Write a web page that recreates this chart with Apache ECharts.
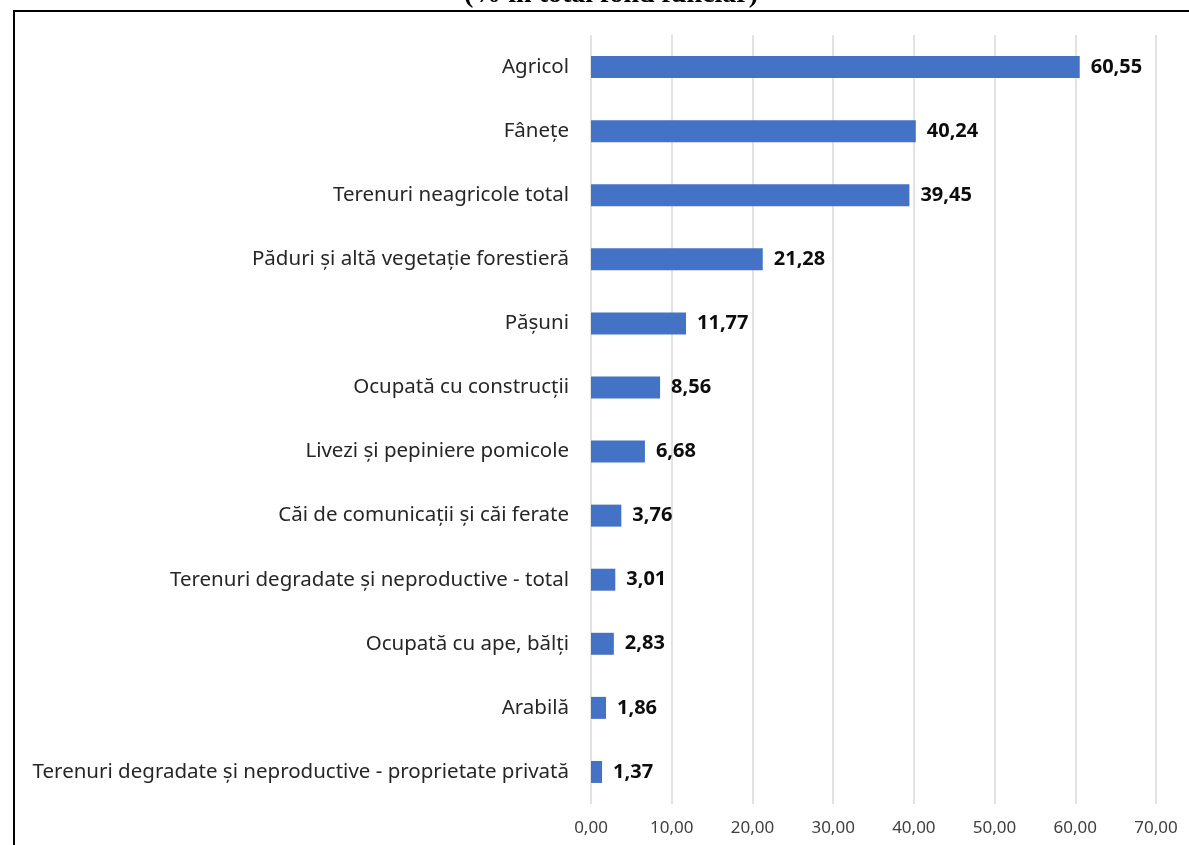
<!DOCTYPE html>
<html><head><meta charset="utf-8">
<script src="https://cdn.jsdelivr.net/npm/echarts@6/dist/echarts.min.js"></script>
<style>html,body{margin:0;padding:0;background:#fff}#c{width:1189px;height:845px}</style>
</head><body><div id="c"></div>
<script>
const categories = [
  "Agricol",
  "Fânețe",
  "Terenuri neagricole total",
  "Păduri și altă vegetație forestieră",
  "Pășuni",
  "Ocupată cu construcții",
  "Livezi și pepiniere pomicole",
  "Căi de comunicații și căi ferate",
  "Terenuri degradate și neproductive - total",
  "Ocupată cu ape, bălți",
  "Arabilă",
  "Terenuri degradate și neproductive - proprietate privată"
];
const values = [60.55, 40.24, 39.45, 21.28, 11.77, 8.56, 6.68, 3.76, 3.01, 2.83, 1.86, 1.37];
const titleText = "(% în total fond funciar)";

const chart = echarts.init(document.getElementById('c'), null, {renderer: 'canvas'});
const fmt = v => v.toFixed(2).replace('.', ',');
chart.setOption({
  animation: false,
  backgroundColor: '#fff',
  graphic: [
    {type: 'rect', shape: {x: 14, y: 11, width: 1300, height: 1000}, style: {fill: 'none', stroke: '#000', lineWidth: 2}, z: 10},
    {type: 'text', x: 611, y: 9, style: {text: titleText, font: 'bold 28px "Liberation Serif"', fill: '#000', align: 'center', verticalAlign: 'bottom'}, z: 10}
  ],
  grid: {left: 591, right: 33, top: 35, bottom: 41, containLabel: false},
  xAxis: {
    type: 'value', min: 0, max: 70, interval: 10,
    axisLine: {show: false}, axisTick: {show: false},
    splitLine: {show: true, lineStyle: {color: '#d9d9d9', width: 1.5}},
    axisLabel: {formatter: fmt, color: '#404040', fontFamily: 'Noto Sans', fontSize: 17, margin: 16}
  },
  yAxis: {
    type: 'category', data: categories, inverse: true,
    axisLine: {show: false}, axisTick: {show: false},
    axisLabel: {color: '#262626', fontFamily: 'Noto Sans', fontSize: 20.5, margin: 22}
  },
  series: [{
    type: 'bar', data: values, barWidth: 22,
    itemStyle: {color: '#4472C4'},
    label: {show: true, position: 'right', distance: 11, formatter: p => fmt(p.value),
      fontFamily: 'Noto Sans', fontWeight: 'bold', fontSize: 20, color: '#0d0d0d'}
  }]
});
</script></body></html>
